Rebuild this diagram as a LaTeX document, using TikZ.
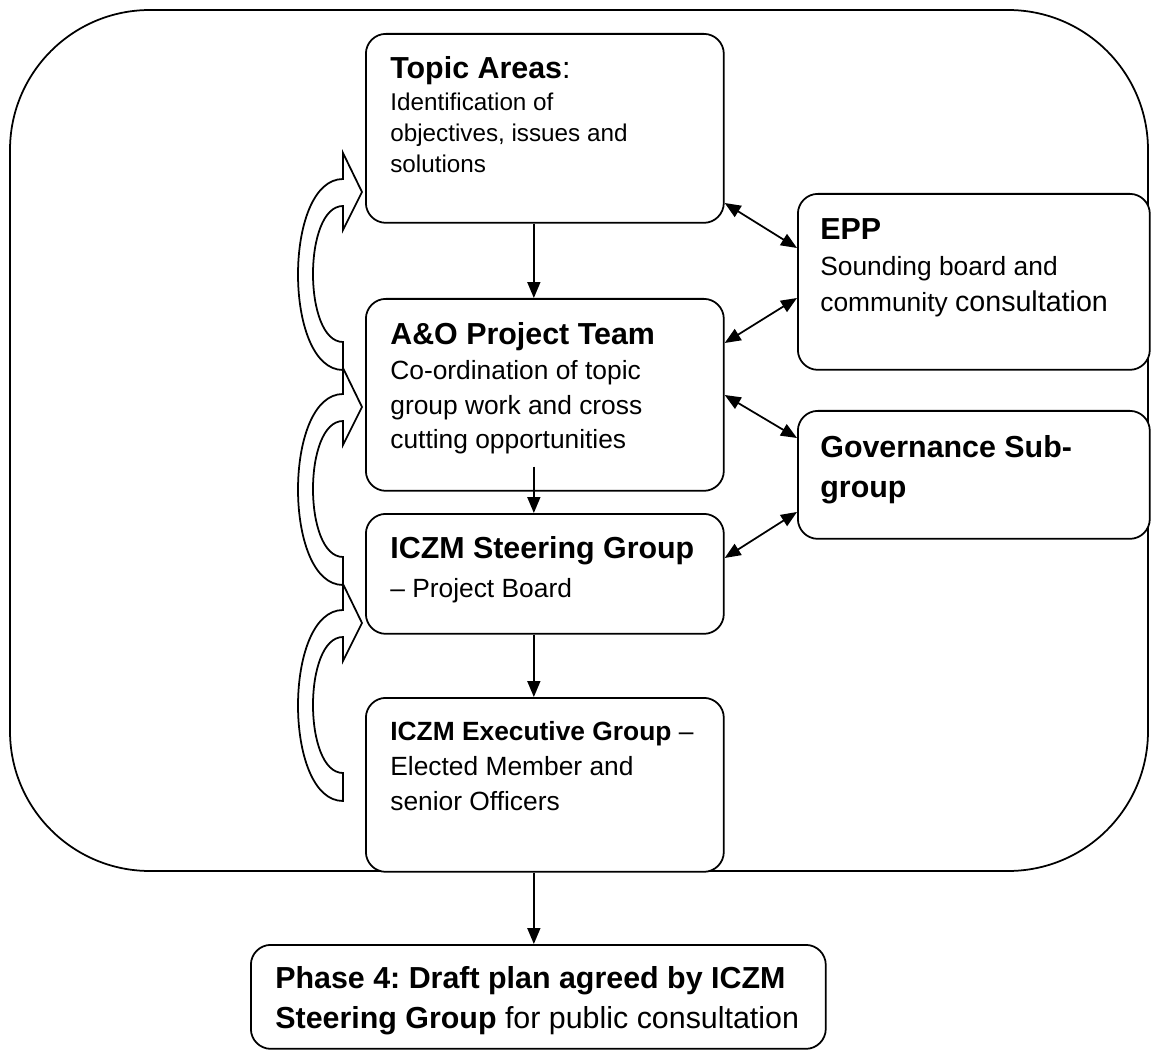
\documentclass[tikz,border=0pt]{standalone}
\usepackage{fontspec}
\setmainfont{Liberation Sans}
\usetikzlibrary{arrows.meta,calc}
\frenchspacing

\newcommand{\headfnt}{\fontsize{17.3}{21}\selectfont\bfseries}

\tikzset{
  box/.style={draw, line width=1pt, rounded corners=0.4cm, fill=white,
    anchor=north west, inner sep=0pt},
  txt/.style={anchor=base west, inner sep=0pt, align=left},
  flow/.style={line width=1pt, -{Triangle[length=0.32cm,width=0.26cm]}},
  both/.style={line width=1pt,
    {Triangle[length=0.32cm,width=0.26cm]}-{Triangle[length=0.32cm,width=0.26cm]}},
  loopback/.style={line width=1pt, fill=white, line join=miter}
}

\begin{document}
\begin{tikzpicture}[x=0.02cm, y=-0.02cm]
    \useasboundingbox (0,0) rectangle (1153,1057);
    % outer frame
    \draw[line width=1pt, rounded corners=2.8cm] (10,10) rectangle (1148,871);

    % curved feedback arrows
    \foreach \t in {192,407,623}
        \draw[loopback] (343,{\t-39}) -- (362,\t) -- (343,{\t+38}) -- (343,{\t+14})
            .. controls (303,{\t+14}) and (303,{\t+150}) .. (343,{\t+150})
            -- (343,{\t+178})
            .. controls (283,{\t+178}) and (283,{\t-13}) .. (343,{\t-13}) -- cycle;

    % boxes
    \node[box, minimum width=7.16cm, minimum height=3.78cm] (topic) at (365,33) {};
    \node[box, minimum width=7.16cm, minimum height=3.84cm] (ao) at (365,298) {};
    \node[box, minimum width=7.16cm, minimum height=2.4cm] (steer) at (365,513) {};
    \node[box, minimum width=7.16cm, minimum height=3.48cm] (exec) at (365,697) {};
    \node[box, minimum width=7.04cm, minimum height=3.52cm] (epp) at (797,193) {};
    \node[box, minimum width=7.04cm, minimum height=2.56cm] (gov) at (797,410) {};
    \node[box, minimum width=11.5cm, minimum height=2.08cm] (phase) at (250,944) {};

    % texts (placed by the baseline of their last line)
    \node[txt, font=\fontsize{13.8}{17.9}\selectfont] (topictxt) at (390,173)
        {{\headfnt Topic Areas}{\fontsize{17.3}{21}\selectfont:}\\
         Identification of\\objectives, issues and\\solutions};
    \node[txt, font=\fontsize{15}{19.9}\selectfont] (aotxt) at (390,449)
        {{\headfnt A\&O Project Team}\\
         Co-ordination of topic\\group work and cross\\cutting opportunities};
    \node[txt, font=\fontsize{15}{22}\selectfont] (steertxt) at (390,597)
        {{\headfnt ICZM Steering Group}\\-- Project Board};
    \node[txt, font=\fontsize{15}{19.9}\selectfont] (exectxt) at (390,810)
        {\textbf{ICZM Executive Group} --\\
         Elected Member and\\senior Officers};
    \node[txt, font=\fontsize{15}{20.7}\selectfont] (epptxt) at (820,312)
        {{\headfnt EPP}\\
         Sounding board and\\community {\fontsize{16.3}{20}\selectfont consultation}};
    \node[txt, font=\fontsize{17.3}{23}\selectfont\bfseries] (govtxt) at (820,498)
        {Governance Sub-\\group};
    \node[txt, font=\fontsize{17.3}{22.5}\selectfont] (phasetxt) at (275,1028)
        {\textbf{Phase 4: Draft plan agreed by ICZM}\\
         \textbf{Steering Group} for public consultation};

    % downward flow
    \draw[flow] ($(topic.south)+(-11,0)$) coordinate (t1) -- (t1 |- ao.north);
    \draw[flow] ($(ao.south)+(-11,-25)$) coordinate (a1) -- (a1 |- steer.north);
    \draw[flow] ($(steer.south)+(-11,0)$) coordinate (s1) -- (s1 |- exec.north);
    \draw[flow] ($(exec.south)+(-11,0)$) coordinate (e1) -- (e1 |- phase.north);

    % two-way links
    \draw[both] ($(topic.north east)+(0,170)$) -- ($(epp.north west)+(0,55)$);
    \draw[both] ($(ao.north east)+(0,45)$) -- ($(epp.north west)+(0,105)$);
    \draw[both] ($(ao.north east)+(0,97)$) -- ($(gov.north west)+(0,28)$);
    \draw[both] ($(steer.north east)+(0,45)$) -- ($(gov.north west)+(0,102)$);
\end{tikzpicture}
\end{document}
